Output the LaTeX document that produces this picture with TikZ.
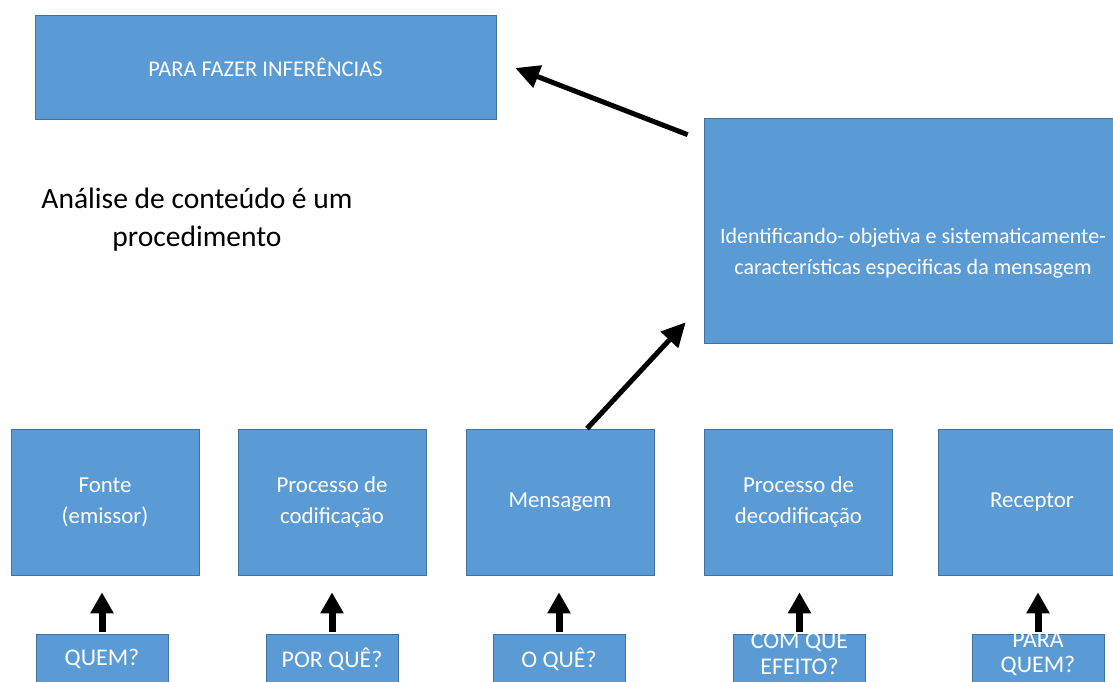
\documentclass[tikz,border=0pt]{standalone}
\usepackage{fontspec}
\setmainfont{Carlito}
\usetikzlibrary{arrows.meta}
\definecolor{boxblue}{HTML}{5B9BD5}
\definecolor{boxedge}{HTML}{41719C}
\begin{document}
\begin{tikzpicture}[x=0.02cm, y=-0.02cm,
    box/.style={fill=boxblue, draw=boxedge, line width=0.4pt, text=white, align=center, inner sep=0pt},
    stage/.style={box, minimum width=3.76cm, minimum height=2.92cm, font=\fontsize{13}{17.5}\selectfont},
    question/.style={box, minimum width=2.64cm, minimum height=1.0cm, font=\fontsize{13.6}{14.5}\selectfont},
    bigarrow/.style={line width=0.1cm, -{Triangle[length=0.48cm, width=0.46cm]}},
    uparrow/.style={line width=0.14cm, -{Triangle[length=0.42cm, width=0.44cm]}, shorten >=0.34cm}]
    \useasboundingbox (0,0) rectangle (1113,682);
    \clip (0,0) rectangle (1113,682);

    % Row 1
    \node[box, minimum width=9.22cm, minimum height=2.08cm, font=\fontsize{12.8}{15}\selectfont] (infer) at (265.5,67) {PARA FAZER INFERÊNCIAS};
    \node[box, minimum width=8.42cm, minimum height=4.5cm] (ident) at (914.5,230.5) {};
    \node[text=white, align=center, inner sep=0pt, font=\fontsize{12.5}{17.6}\selectfont] (identtext) at (913,253) {Identificando- objetiva e sistematicamente-\\caracter\'isticas especificas da mensagem};

    % Row 2
    \node[align=center, font=\fontsize{16.8}{21.5}\selectfont] (proc) at (197,220) {Análise de conteúdo é um\\procedimento};

    % Row 3
    \node[stage] (fonte) at (105,502) {Fonte\\(emissor)};
    \node[stage] (codif) at (332,502) {Processo de\\codificação};
    \node[stage] (msg) at (560,502) {Mensagem};
    \node[stage] (decod) at (798.5,502) {Processo de\\decodificação};
    \node[stage] (recep) at (1032,502) {Receptor};

    % Row 4
    \node[question] (q1) at (102,659) {QUEM?};
    \node[question] (q2) at (332,659) {POR QUÊ?};
    \node[question] (q3) at (559,659) {O QUÊ?};
    \node[question] (q4) at (799.5,659) {};
    \node[question] (q5) at (1038,659) {};
    \node[text=white, align=center, inner sep=0pt, font=\fontsize{13.6}{14.5}\selectfont] (q4text) at (799.5,654) {COM QUE\\EFEITO?};
    \node[text=white, align=center, inner sep=0pt, font=\fontsize{13.6}{14.5}\selectfont] (q5text) at (1038,654) {PARA\\QUEM?};

    % Edges
    \draw[bigarrow] ([shift={(-16,17)}]ident.north west) -- ([shift={(19,1)}]infer.east);
    \draw[bigarrow] ([shift={(27,0)}]msg.north) -- ([shift={(-18,-21)}]ident.south west);
    \draw[uparrow] ([yshift=0.04cm]q1.north) -- (q1.north |- fonte.south);
    \draw[uparrow] ([yshift=0.04cm]q2.north) -- (q2.north |- codif.south);
    \draw[uparrow] ([yshift=0.04cm]q3.north) -- (q3.north |- msg.south);
    \draw[uparrow] ([yshift=0.04cm]q4.north) -- (q4.north |- decod.south);
    \draw[uparrow] ([yshift=0.04cm]q5.north) -- (q5.north |- recep.south);
\end{tikzpicture}
\end{document}
